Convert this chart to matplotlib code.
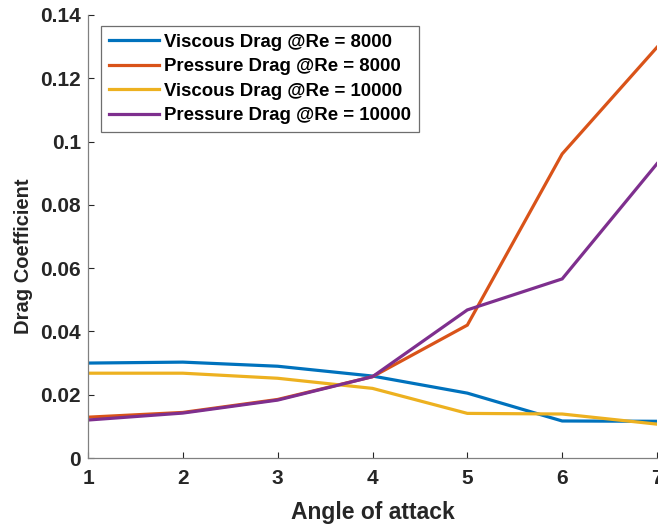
import matplotlib
matplotlib.use('Agg')
import matplotlib.pyplot as plt
from matplotlib.ticker import FuncFormatter

plt.rcParams['font.family'] = ['Liberation Sans', 'DejaVu Sans']
plt.rcParams['font.weight'] = 'bold'

# angle of attack and drag coefficients
angle = [1, 2, 3, 4, 5, 6, 7]
viscous_8000 = [0.0300, 0.0303, 0.0290, 0.0259, 0.0205, 0.0117, 0.0116]
pressure_8000 = [0.0129, 0.0144, 0.0185, 0.0257, 0.0420, 0.0961, 0.1298]
viscous_10000 = [0.0268, 0.0268, 0.0252, 0.0220, 0.0141, 0.0139, 0.0107]
pressure_10000 = [0.0120, 0.0142, 0.0183, 0.0257, 0.0468, 0.0566, 0.0930]

labels = ['Viscous Drag @Re = 8000', 'Pressure Drag @Re = 8000',
          'Viscous Drag @Re = 10000', 'Pressure Drag @Re = 10000']
colors = ['#0072BD', '#D95319', '#EDB120', '#7E2F8E']

fig = plt.figure(figsize=(6.58, 5.25), dpi=100)
ax = fig.add_axes([88 / 658, 67 / 525, 569 / 658, 443 / 525])

for ys, lab, c in zip([viscous_8000, pressure_8000, viscous_10000, pressure_10000], labels, colors):
    ax.plot(angle, ys, color=c, lw=2.3, label=lab, solid_joinstyle='miter')

ax.set_xlim(1, 7)
ax.set_ylim(0, 0.14)
ax.set_xticks(angle)
ax.set_yticks([0, 0.02, 0.04, 0.06, 0.08, 0.1, 0.12, 0.14])
ax.yaxis.set_major_formatter(FuncFormatter(lambda v, p: '%g' % round(v, 4)))

for s in ['top', 'right']:
    ax.spines[s].set_visible(False)
for s in ['left', 'bottom']:
    ax.spines[s].set_color('#808080')
    ax.spines[s].set_linewidth(0.9)

ax.tick_params(direction='in', length=4, width=0.8, color='#262626',
               labelsize=15, labelcolor='#262626')
ax.tick_params(axis='x', pad=8)
ax.tick_params(axis='y', pad=5)

ax.set_xlabel('Angle of attack', fontsize=16.5, fontweight='bold', color='#262626', labelpad=9)
ax.set_ylabel('Drag Coefficient', fontsize=14.5, fontweight='bold', color='#262626')
ax.yaxis.set_label_coords(-0.096, 0.455)

leg = ax.legend(loc='upper left', bbox_to_anchor=(13 / 569, 432 / 443), borderaxespad=0,
                fontsize=13.4, handlelength=2.7, handletextpad=0.25, borderpad=0.42,
                labelspacing=0.4, fancybox=False, framealpha=1, edgecolor='#6e6e6e')
leg.get_frame().set_linewidth(0.9)
for t in leg.get_texts():
    t.set_fontweight('bold')
    t.set_color('black')

fig.savefig('out.png', dpi=100)
